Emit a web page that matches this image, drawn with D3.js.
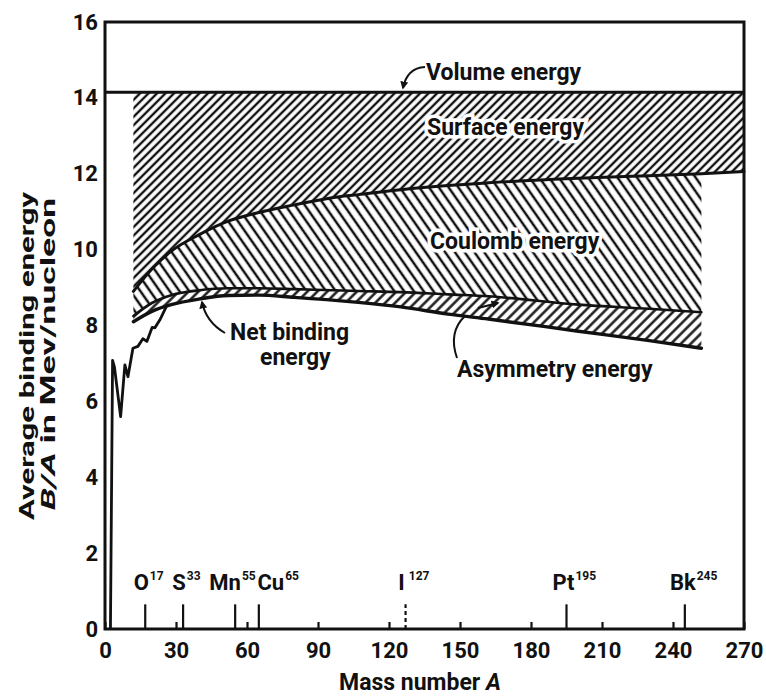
<!DOCTYPE html>
<html>
<head>
<meta charset="utf-8">
<script src="https://cdn.jsdelivr.net/npm/d3@7"></script>
<style>
  body { margin: 0; background: #fff; }
  #T { width: 766px; height: 698px; }
  text { font-family: Roboto, "DejaVu Sans", sans-serif; font-weight: bold; fill: #111; }
</style>
</head>
<body>
<div id="T"></div>
<script>
// tick labels
const massTicks = [0, 30, 60, 90, 120, 150, 180, 210, 240, 270];
const energyTicks = [0, 2, 4, 6, 8, 10, 12, 14, 16];

const gridA   = [12, 20, 28, 40, 52, 65, 80, 96, 107, 125, 145, 162, 200, 230, 252, 270];
const volume  = 14.15;
const surface = [8.9, 9.5, 9.96, 10.4, 10.75, 10.98, 11.18, 11.37, 11.45, 11.58, 11.69, 11.76, 11.88, 11.95, 12.0, 12.06];
const coulomb = [8.25, 8.6, 8.8, 8.93, 8.98, 8.98, 8.96, 8.93, 8.91, 8.88, 8.82, 8.77, 8.55, 8.44, 8.35];
const netBind = [8.1, 8.38, 8.55, 8.7, 8.79, 8.8, 8.74, 8.67, 8.61, 8.49, 8.3, 8.17, 7.85, 7.6, 7.4];

// measured light nuclei
const lightA = [2.3, 3.2, 4.0, 6.6, 8.4, 9.7, 11.8, 13.9, 16, 17.7, 19.9, 21.1, 23.2, 26];
const lightE = [0, 7.08, 6.9, 5.6, 6.96, 6.65, 7.4, 7.45, 7.65, 7.58, 7.95, 7.94, 8.15, 8.51];

// marked nuclides
const isoName = ["O", "S", "Mn", "Cu", "I", "Pt", "Bk"];
const isoA    = [17, 33, 55, 65, 127, 195, 245];

const parent = d3.select('#T');
const width = 766, height = 698;
const SVG = parent.append('svg')
    .attr("width", width)
    .attr("height", height);

const x = d3.scaleLinear().domain([0, 270]).range([105, 744]);
const y = d3.scaleLinear().domain([0, 16]).range([629, 22]);

// hatch patterns
const defs = SVG.append("defs");
function hatch(id, gap, angle, lw) {
    const p = defs.append("pattern")
        .attr("id", id)
        .attr("patternUnits", "userSpaceOnUse")
        .attr("width", gap).attr("height", gap)
        .attr("patternTransform", "rotate(" + angle + ")");
    p.append("line")
        .attr("x1", gap / 2).attr("y1", 0)
        .attr("x2", gap / 2).attr("y2", gap)
        .attr("stroke", "#111")
        .attr("stroke-width", lw);
}
hatch("hSurf", 6, 45, 2.4);
hatch("hCoul", 8, -35, 2.5);
hatch("hAsym", 7, 45, 2.4);

const rows = gridA.map((a, i) => ({ a: a, s: surface[i], c: coulomb[i], n: netBind[i] }));
const inner = rows.filter(d => d.a <= 252);
const crv = d3.curveMonotoneX;

SVG.append("path")
    .datum(rows)
    .attr("fill", "url(#hSurf)")
    .attr("d", d3.area().curve(crv).x(d => x(d.a)).y0(d => y(d.s)).y1(y(volume)));
SVG.append("path")
    .datum(inner)
    .attr("fill", "url(#hCoul)")
    .attr("d", d3.area().curve(crv).x(d => x(d.a)).y0(d => y(d.c)).y1(d => y(d.s)));
SVG.append("path")
    .datum(inner)
    .attr("fill", "url(#hAsym)")
    .attr("d", d3.area().curve(crv).x(d => x(d.a)).y0(d => y(d.n)).y1(d => y(d.c)));

// boundary lines
function curveLine(data, key, w) {
    SVG.append("path")
        .datum(data)
        .attr("fill", "none")
        .attr("stroke", "#111")
        .attr("stroke-width", w)
        .attr("stroke-linecap", "round")
        .attr("d", d3.line().curve(crv).x(d => x(d.a)).y(d => y(d[key])));
}
SVG.append("line")
    .attr("x1", x(0)).attr("x2", x(270))
    .attr("y1", y(volume)).attr("y2", y(volume))
    .attr("stroke", "#111").attr("stroke-width", 3);
curveLine(rows, "s", 3);
curveLine(inner, "c", 2.6);
curveLine(inner, "n", 3.4);

SVG.append("path")
    .datum(lightA.map((a, i) => [a, lightE[i]]))
    .attr("fill", "none")
    .attr("stroke", "#111")
    .attr("stroke-width", 2.8)
    .attr("stroke-linejoin", "round")
    .attr("d", d3.line().x(d => x(d[0])).y(d => y(d[1])));

// frame
SVG.append("rect")
    .attr("x", x(0)).attr("y", y(16))
    .attr("width", x(270) - x(0)).attr("height", y(0) - y(16))
    .attr("fill", "none").attr("stroke", "#111").attr("stroke-width", 3);

// axes
const xAxis = SVG.append("g")
    .attr("transform", "translate(0," + y(0) + ")")
    .call(d3.axisBottom(x).tickValues(massTicks).tickSizeInner(-7).tickSizeOuter(0).tickPadding(13));
const yAxis = SVG.append("g")
    .attr("transform", "translate(" + x(0) + ",0)")
    .call(d3.axisLeft(y).tickValues(energyTicks).tickSize(0).tickPadding(7));
[xAxis, yAxis].forEach(g => {
    g.select(".domain").remove();
    g.attr("font-family", null).attr("font-size", null);
    g.selectAll("line").attr("stroke", "#111").attr("stroke-width", 2.2);
    g.selectAll("text").style("font-size", "22px").attr("fill", "#111");
});

// nuclide markers; symbols sit a little off their ticks as in the print
const isoShift = [-4, -4, -10, 12, -4, -3, -2];
isoA.forEach((a, i) => {
    SVG.append("line")
        .attr("x1", x(a)).attr("x2", x(a))
        .attr("y1", y(0)).attr("y2", y(0.65))
        .attr("stroke", "#111").attr("stroke-width", 2.2)
        .attr("stroke-dasharray", isoName[i] == "I" ? "4,3" : null);
    const cx = x(a) + isoShift[i];
    const t = SVG.append("text")
        .attr("x", cx).attr("y", 590)
        .attr("text-anchor", "middle")
        .style("font-size", "22px")
        .text(isoName[i]);
    const w = t.node().getComputedTextLength();
    SVG.append("text")
        .attr("x", cx + w / 2 + (isoName[i] == "I" ? 4 : 1)).attr("y", 580)
        .style("font-size", "12px")
        .text(a);
});

// region labels
function label(tx, ty, s, halo) {
    const t = SVG.append("text")
        .attr("x", tx).attr("y", ty)
        .style("font-size", "23px")
        .text(s);
    if (halo) t.attr("stroke", "#fff").attr("stroke-width", 7).attr("paint-order", "stroke");
    return t;
}
label(426, 80, "Volume energy", true);
label(427, 135, "Surface energy", true);
label(430, 249, "Coulomb energy", true);
label(457, 377, "Asymmetry energy", false);
label(230, 340, "Net binding", false);
label(260, 365, "energy", false);

// leaders
defs.append("marker")
    .attr("id", "arr")
    .attr("viewBox", "0 0 10 10")
    .attr("refX", 8).attr("refY", 5)
    .attr("markerWidth", 4).attr("markerHeight", 4)
    .attr("orient", "auto")
    .append("path").attr("d", "M0,0L10,5L0,10z").attr("fill", "#111");
function leader(d, arrow) {
    SVG.append("path")
        .attr("d", d)
        .attr("fill", "none")
        .attr("stroke", "#111")
        .attr("stroke-width", 2)
        .attr("marker-end", arrow ? "url(#arr)" : null);
}
leader("M425,67 Q407,68 403,88", true);
leader("M225,333 Q206,322 202,302", true);
leader("M457,358 Q448,332 465,316", false);
leader("M478,308 L498,303", true);

// axis titles
const xt = SVG.append("text")
    .attr("x", 420).attr("y", 690)
    .attr("text-anchor", "middle")
    .style("font-size", "23px")
    .text("Mass number ");
xt.append("tspan").style("font-style", "italic").text("A");

const yt1 = SVG.append("text")
    .attr("transform", "translate(27,356) rotate(-90)")
    .attr("text-anchor", "middle")
    .attr("dominant-baseline", "central")
    .attr("textLength", 328)
    .attr("lengthAdjust", "spacingAndGlyphs")
    .style("font-size", "20px")
    .text("Average binding energy");
const yt2 = SVG.append("text")
    .attr("transform", "translate(48,354) rotate(-90)")
    .attr("text-anchor", "middle")
    .attr("dominant-baseline", "central")
    .attr("textLength", 312)
    .attr("lengthAdjust", "spacingAndGlyphs")
    .style("font-size", "20px");
yt2.append("tspan").style("font-style", "italic").text("B/A");
yt2.append("tspan").text(" in Mev/nucleon");
</script>
</body>
</html>
